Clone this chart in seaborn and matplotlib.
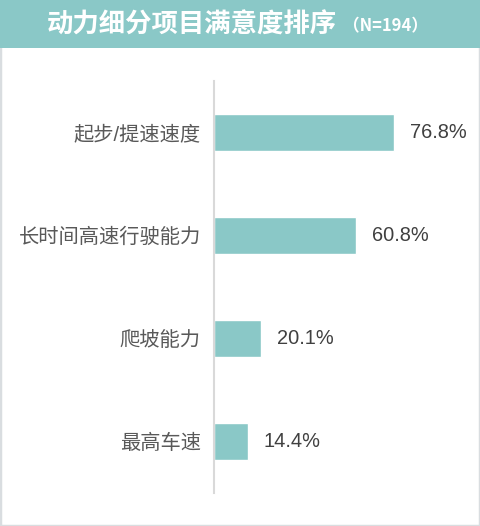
import matplotlib
matplotlib.use("Agg")
import matplotlib.pyplot as plt
import seaborn as sns
import pandas as pd
from matplotlib.patches import Rectangle

categories = ["起步/提速速度", "长时间高速行驶能力", "爬坡能力", "最高车速"]
values = [76.8, 60.8, 20.1, 14.4]
value_labels = ["76.8%", "60.8%", "20.1%", "14.4%"]
title = "动力细分项目满意度排序"
subtitle = "（N=194）"

sns.set_theme(style="white")
plt.rcParams['font.family'] = ['Liberation Sans', 'Noto Sans CJK SC', 'DejaVu Sans']

TEAL = "#8AC8C7"
df = pd.DataFrame({"cat": categories, "val": values})

fig = plt.figure(figsize=(4.8, 5.26), dpi=100)
fig.patch.set_facecolor("white")

# border and header
fig.patches.append(Rectangle((0, 0), 1, 1, transform=fig.transFigure, fill=False,
                             edgecolor="#D9DDE0", linewidth=2.5, zorder=0))
fig.patches.append(Rectangle((0, 1 - 48 / 526), 1, 48 / 526, transform=fig.transFigure,
                             facecolor=TEAL, edgecolor="none", zorder=1))
fig.text(47 / 480, 1 - 25 / 526, title, color="white", fontsize=19, fontweight="bold",
         va="center", ha="left", family=['Noto Sans CJK SC', 'DejaVu Sans'])
fig.text(343 / 480, 1 - 26 / 526, subtitle, color="white", fontsize=12, fontweight="bold",
         va="center", ha="left", family=['Noto Sans CJK SC', 'DejaVu Sans'])

ax = fig.add_axes([214 / 480, 33 / 526, 234 / 480, 412 / 526])
sns.barplot(data=df, x="val", y="cat", orient="h", color=TEAL, saturation=1,
            width=0.35, ax=ax)
ax.set_xlim(0, 100)
ax.set_ylim(3.5, -0.5)
ax.set_xlabel("")
ax.set_ylabel("")
ax.set_xticks([])
ax.tick_params(axis="y", length=0, pad=9.5, labelsize=14.6, labelcolor="#595959")
for s in ["top", "right", "bottom"]:
    ax.spines[s].set_visible(False)
ax.spines["left"].set_color("#D9D9D9")
ax.spines["left"].set_linewidth(1.5)
ax.set_facecolor("none")

for i, (v, lab) in enumerate(zip(values, value_labels)):
    ax.annotate(lab, xy=(v, i), xytext=(16, 0), textcoords="offset pixels",
                va="center", ha="left", fontsize=14.4, color="#404040")

fig.savefig("out.png", dpi=100)
